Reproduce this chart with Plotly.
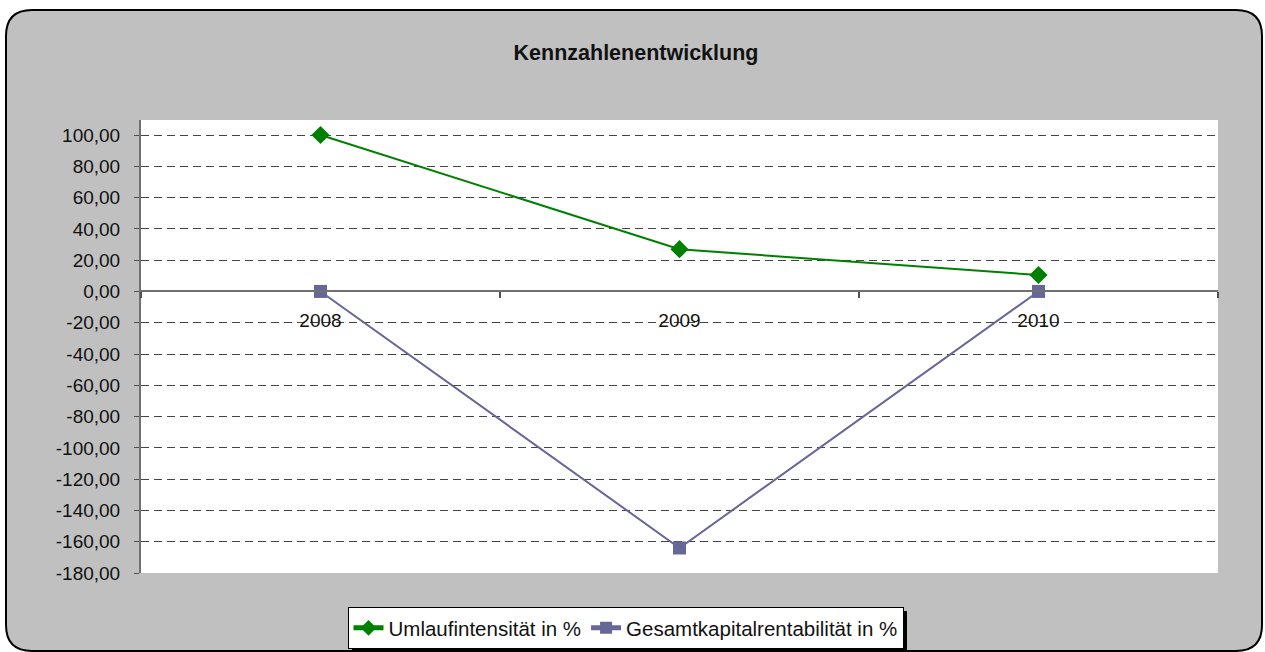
import plotly.graph_objects as go

# ---- data ----
years = ["2008", "2009", "2010"]
umlauf = [100.0, 27.0, 10.5]
gesamt = [0.0, -164.0, 0.0]
y_ticks = [100, 80, 60, 40, 20, 0, -20, -40, -60, -80, -100, -120, -140, -160, -180]
y_ticklabels = [f"{v:.2f}".replace(".", ",") for v in y_ticks]
y_range = [-180, 109.6]

W, H = 1265, 652
L, R, T, B = 141, 47, 120, 79
pw, ph = W - L - R, H - T - B


def px(x):
    return (x - L) / pw


def py(y):
    return (H - B - y) / ph


def rounded(x0, y0, x1, y1, r):
    a0, a1 = px(x0), px(x1)
    b0, b1 = py(y0), py(y1)
    rx, ry = r / pw, r / ph
    return (f"M {a0+rx},{b0} L {a1-rx},{b0} Q {a1},{b0} {a1},{b0-ry} "
            f"L {a1},{b1+ry} Q {a1},{b1} {a1-rx},{b1} L {a0+rx},{b1} "
            f"Q {a0},{b1} {a0},{b1+ry} L {a0},{b0-ry} Q {a0},{b0} {a0+rx},{b0} Z")


font = "Liberation Sans, Arial, sans-serif"
zero_pos = (0 - y_range[0]) / (y_range[1] - y_range[0])

fig = go.Figure()
fig.add_trace(go.Scatter(
    x=years, y=umlauf, name="Umlaufintensität in %", mode="lines+markers",
    line=dict(color="#008000", width=2),
    marker=dict(symbol="diamond", size=14, color="#008000"),
))
fig.add_trace(go.Scatter(
    x=years, y=gesamt, name="Gesamtkapitalrentabilität in %", mode="lines+markers",
    line=dict(color="#666699", width=2),
    marker=dict(symbol="square", size=13, color="#666699"),
))

shapes = [
    dict(type="path", xref="paper", yref="paper", path=rounded(6, 10, 1262, 651, 26),
         fillcolor="#C0C0C0", line=dict(color="black", width=2), layer="below"),
    dict(type="rect", xref="paper", yref="paper", x0=0, x1=1, y0=0, y1=1,
         fillcolor="white", line=dict(width=0), layer="below"),
    dict(type="rect", xref="paper", yref="paper", x0=px(352), x1=px(907), y0=py(611), y1=py(650),
         fillcolor="black", line=dict(width=0), layer="below"),
]

fig.update_layout(
    width=W, height=H,
    margin=dict(l=L, r=R, t=T, b=B, pad=0, autoexpand=False),
    paper_bgcolor="white",
    plot_bgcolor="rgba(0,0,0,0)",
    font=dict(family=font, size=19, color="#111111"),
    title=dict(text="<b>Kennzahlenentwicklung</b>", x=636 / W, xref="container",
               y=1 - 52 / H, yref="container", xanchor="center", yanchor="middle",
               font=dict(family=font, size=21.5, color="#111111")),
    showlegend=True,
    legend=dict(orientation="h", x=px(625.5), xanchor="center", y=py(607), yanchor="top",
                bgcolor="white", bordercolor="black", borderwidth=1,
                font=dict(family=font, size=20.5, color="#111111"),
                itemsizing="constant"),
    shapes=shapes,
    xaxis=dict(type="category", range=[-0.5, 2.5], anchor="free", position=zero_pos,
               showline=True, linecolor="#707070", linewidth=2,
               ticks="outside", tickson="boundaries", ticklen=6, tickcolor="#505050", tickwidth=2,
               ticklabelstandoff=12, showgrid=False, zeroline=False,
               tickfont=dict(family=font, size=19, color="#111111")),
    xaxis2=dict(overlaying="x", anchor="free", position=zero_pos, range=[-0.5, 2.5],
                tickvals=[-0.5, 0.5, 1.5, 2.5], ticks="inside", ticklen=6,
                tickcolor="#505050", tickwidth=2, showticklabels=False,
                showgrid=False, zeroline=False, showline=False),
    yaxis=dict(range=y_range, tickvals=y_ticks, ticktext=y_ticklabels,
               showline=True, linecolor="#707070", linewidth=2,
               ticks="outside", ticklen=5, tickcolor="#505050", tickwidth=1,
               showgrid=True, gridcolor="#444444", griddash="8px,5px", gridwidth=1,
               zeroline=False, ticklabelstandoff=10,
               tickfont=dict(family=font, size=19, color="#111111")),
)

fig.write_html("out.html", config={"displayModeBar": False},
               post_script="document.body.style.margin='0';")
